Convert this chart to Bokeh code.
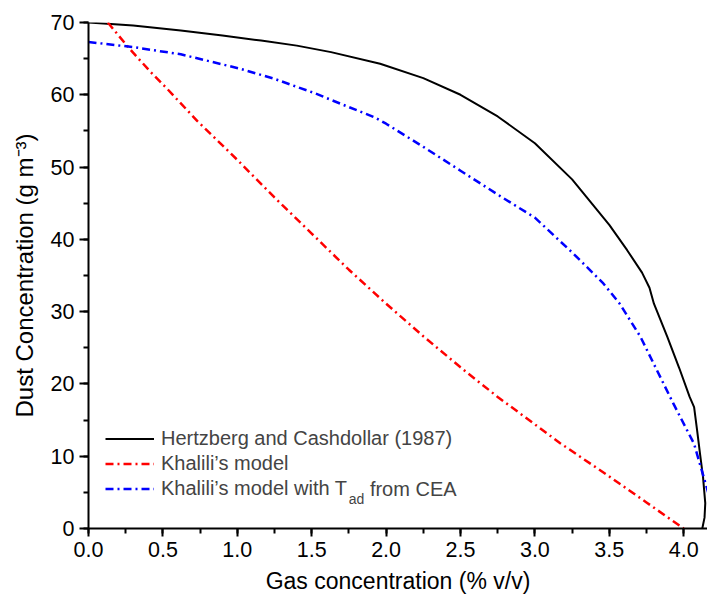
from bokeh.plotting import figure
from bokeh.models import (Legend, LegendItem, Label, SingleIntervalTicker,
                          PrintfTickFormatter, Range1d)
from bokeh.embed import file_html
from bokeh.resources import INLINE

# ---- data ----
black_x = [0.0, 0.3, 0.62, 0.9, 1.16, 1.4, 1.63, 1.96, 2.25, 2.5, 2.75, 3.0,
           3.25, 3.5, 3.62, 3.72, 3.77, 3.80, 3.89, 3.97, 4.04, 4.07, 4.09,
           4.11, 4.13, 4.145, 4.14, 4.125]
black_y = [70.0, 69.6, 68.9, 68.2, 67.5, 66.8, 65.9, 64.3, 62.3, 60.0, 57.0,
           53.3, 48.3, 42.0, 38.5, 35.4, 33.3, 31.1, 26.5, 22.2, 18.2, 16.8,
           13.6, 10.3, 7.1, 3.5, 1.5, 0.0]

red_x = [0.13, 0.27, 0.42, 0.53, 0.73, 1.0, 1.25, 1.5, 1.75, 2.0, 2.25, 2.5,
         2.75, 3.0, 3.17, 3.5, 3.75, 4.0]
red_y = [70.0, 66.5, 63.1, 60.8, 56.4, 51.0, 45.8, 40.8, 35.8, 31.1, 26.6,
         22.3, 18.2, 14.4, 11.8, 7.2, 3.6, 0.0]

blue_x = [0.0, 0.3, 0.62, 1.02, 1.25, 1.51, 1.75, 1.92, 2.0, 2.25, 2.5, 2.75,
          3.0, 3.26, 3.46, 3.57, 3.71, 3.82, 3.93, 4.07, 4.16, 4.23]
blue_y = [67.3, 66.6, 65.6, 63.6, 62.2, 60.3, 58.3, 56.9, 56.0, 52.8, 49.5,
          46.2, 43.0, 38.0, 33.9, 31.1, 26.5, 21.9, 17.3, 11.7, 5.3, 0.0]

series_labels = ["Hertzberg and Cashdollar (1987)", "Khalili’s model",
                 "Khalili’s model with T"]
x_label = "Gas concentration (% v/v)"
y_label = "Dust Concentration (g m⁻³)"

FONT = "Liberation Sans"

p = figure(width=707, height=600, output_backend="svg", toolbar_location=None,
           x_range=Range1d(0, 4.16), y_range=Range1d(0, 70),
           min_border_left=88, min_border_right=0, min_border_top=22,
           min_border_bottom=72)
p.outline_line_color = None
p.grid.visible = False
p.background_fill_color = "white"
p.border_fill_color = "white"

p.xaxis.ticker = SingleIntervalTicker(interval=0.5, num_minor_ticks=2)
p.yaxis.ticker = SingleIntervalTicker(interval=10, num_minor_ticks=2)
p.xaxis.formatter = PrintfTickFormatter(format="%.1f")
p.yaxis.formatter = PrintfTickFormatter(format="%d")
for ax in (p.xaxis, p.yaxis):
    ax.axis_line_width = 2
    ax.major_tick_line_width = 2
    ax.minor_tick_line_width = 2
    ax.major_tick_out = 8
    ax.major_tick_in = 0
    ax.minor_tick_out = 5
    ax.minor_tick_in = 0
    ax.major_label_text_font = FONT
    ax.major_label_text_font_size = "21.5px"
    ax.major_label_text_color = "black"
    ax.major_label_standoff = 5
    ax.axis_line_color = "black"
    ax.major_tick_line_color = "black"
    ax.minor_tick_line_color = "black"
    ax.axis_label_text_font = FONT
    ax.axis_label_text_font_style = "normal"
    ax.axis_label_text_color = "black"

p.yaxis.major_tick_out = 9
p.xaxis.axis_label = x_label
p.xaxis.axis_label_text_font_size = "23px"
p.xaxis.axis_label_standoff = 8
p.yaxis.axis_label = y_label
p.yaxis.axis_label_text_font_size = "24px"
p.yaxis.axis_label_standoff = 10

r_black = p.line(black_x, black_y, line_color="black", line_width=2)
r_red = p.line(red_x, red_y, line_color="red", line_width=2.5,
               line_dash="8 4 2 4")
r_blue = p.line(blue_x, blue_y, line_color="blue", line_width=2.5,
                line_dash="8 4 2 4")

legend = Legend(items=[LegendItem(label=series_labels[0], renderers=[r_black]),
                       LegendItem(label=series_labels[1], renderers=[r_red]),
                       LegendItem(label=series_labels[2], renderers=[r_blue])],
                location=(17, 28.5), orientation="vertical", padding=0,
                margin=0, spacing=2, glyph_width=49, glyph_height=23,
                label_height=23, label_standoff=7, label_text_font=FONT,
                label_text_font_size="20px", border_line_color=None,
                background_fill_alpha=0)
p.add_layout(legend)

# subscript part of the third legend entry
p.add_layout(Label(x=260.2, y=29.5, x_units="screen", y_units="screen",
                   text="ad", text_font=FONT, text_font_size="14px",
                   text_baseline="middle", text_align="left"))
p.add_layout(Label(x=281.4, y=40, x_units="screen", y_units="screen",
                   text="from CEA", text_font=FONT, text_font_size="20px",
                   text_baseline="middle", text_align="left"))

open("out.html", "w").write(file_html(p, INLINE))
